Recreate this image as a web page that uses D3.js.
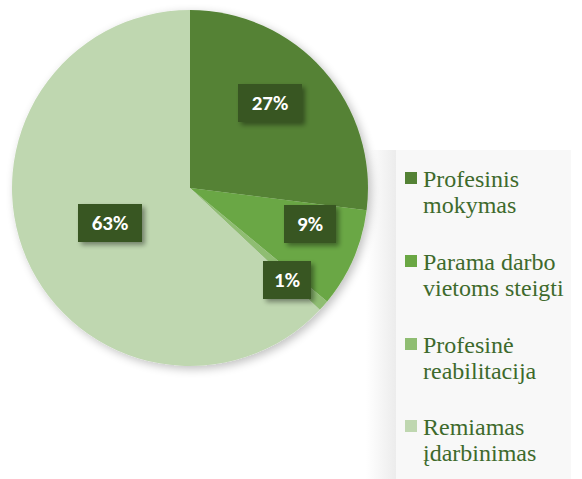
<!DOCTYPE html>
<html><head><meta charset="utf-8">
<script src="https://cdn.jsdelivr.net/npm/d3@7/dist/d3.min.js"></script>
</head><body style="margin:0">
<svg id="c" width="582" height="479" style="display:block" font-family="Tinos, 'Liberation Serif', serif"></svg>
<script>
const categories = ["Profesinis mokymas", "Parama darbo vietoms steigti", "Profesinė reabilitacija", "Remiamas įdarbinimas"];
const legendLines = [["Profesinis","mokymas"],["Parama darbo","vietoms steigti"],["Profesinė","reabilitacija"],["Remiamas","įdarbinimas"]];
const values = [27, 9, 1, 63];
const labels = ["27%", "9%", "1%", "63%"];
const colors = ["#548235", "#6aa744", "#8fbd72", "#bfd7b0"];

const svg = d3.select("#c");
const defs = svg.append("defs");
const f = defs.append("filter").attr("id","sh").attr("x","-20%").attr("y","-20%").attr("width","150%").attr("height","150%");
f.append("feGaussianBlur").attr("in","SourceAlpha").attr("stdDeviation",5);
f.append("feOffset").attr("dx",3).attr("dy",3).attr("result","b");
f.append("feComponentTransfer").append("feFuncA").attr("type","linear").attr("slope",0.25);
const m = f.append("feMerge"); m.append("feMergeNode"); m.append("feMergeNode").attr("in","SourceGraphic");
const f2 = defs.append("filter").attr("id","sh2").attr("x","-30%").attr("y","-30%").attr("width","160%").attr("height","160%");
f2.append("feGaussianBlur").attr("in","SourceAlpha").attr("stdDeviation",2.5);
f2.append("feOffset").attr("dx",3).attr("dy",3).attr("result","b");
f2.append("feComponentTransfer").append("feFuncA").attr("type","linear").attr("slope",0.4);
const m2 = f2.append("feMerge"); m2.append("feMergeNode"); m2.append("feMergeNode").attr("in","SourceGraphic");
const lg = defs.append("linearGradient").attr("id","lgs").attr("x1","0").attr("x2","1");
lg.append("stop").attr("offset","0").attr("stop-color","#fff");
lg.append("stop").attr("offset","1").attr("stop-color","#ececec");

svg.append("rect").attr("x",366).attr("y",150).attr("width",30).attr("height",329).attr("fill","url(#lgs)");
svg.append("rect").attr("x",396).attr("y",150).attr("width",175).attr("height",329).attr("fill","#f8f8f8");

const cx = 190, cy = 188, r = 178;
const pie = d3.pie().sort(null).value(d => d);
const arcs = pie(values);
const arc = d3.arc().innerRadius(0).outerRadius(r);
const g = svg.append("g").attr("transform",`translate(${cx},${cy})`);
g.append("g").attr("filter","url(#sh)").selectAll("path").data(arcs).join("path")
  .attr("d",arc).attr("fill",(d,i)=>colors[i]).attr("stroke","none");

const labelPos = [[80,-85],[120,36],[97,92],[-80,35]];
const boxW = [64,52,48,64], boxH = 38;
const lab = g.selectAll("g.lab").data(arcs).join("g").attr("class","lab")
  .attr("transform",(d,i)=>`translate(${labelPos[i][0]},${labelPos[i][1]})`);
lab.append("rect").attr("x",(d,i)=>-boxW[i]/2).attr("y",-boxH/2).attr("width",(d,i)=>boxW[i]).attr("height",boxH)
  .attr("fill","#375623").attr("filter","url(#sh2)");
lab.append("text").attr("x",0).attr("y",7).attr("text-anchor","middle")
  .attr("font-family","Carlito, Lato, sans-serif").attr("font-weight","bold").attr("font-size",21)
  .attr("fill","#fff").text((d,i)=>labels[i]);

const baseY = [187,270,353,435];
categories.forEach((c,i)=>{
  svg.append("rect").attr("x",405).attr("y",baseY[i]-15).attr("width",12).attr("height",12).attr("fill",colors[i]);
  legendLines[i].forEach((ln,j)=>{
    svg.append("text").attr("x",423).attr("y",baseY[i]+j*26)
      .attr("font-family","Tinos, 'Liberation Serif', serif").attr("font-size",24).attr("fill","#3e6a2c").text(ln);
  });
});
</script>
</body></html>
